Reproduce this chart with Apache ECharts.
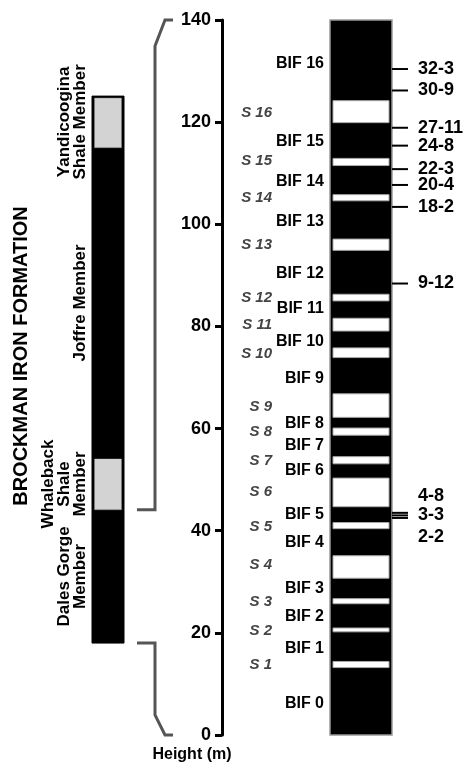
<!DOCTYPE html>
<html>
<head>
<meta charset="utf-8">
<script src="https://cdn.jsdelivr.net/npm/echarts@6/dist/echarts.min.js"></script>
<style>html,body{margin:0;padding:0;background:#fff}#c{width:465px;height:764px}</style>
</head>
<body>
<div id="c"></div>
<script>
// ---------- DATA ----------
const heightMin = 0, heightMax = 140, heightStep = 20;
const axisName = 'Height (m)';
const formationName = 'BROCKMAN IRON FORMATION';

const memberLabels = ['Dales Gorge\nMember', 'Whaleback\nShale\nMember', 'Joffre Member', 'Yandicoogina\nShale Member'];
const memberBase = [18.0, 44.1, 54.2, 115.0];
const memberTop  = [44.1, 54.2, 115.0, 125.1];

const bifLabels = ['BIF 0','BIF 1','BIF 2','BIF 3','BIF 4','BIF 5','BIF 6','BIF 7','BIF 8','BIF 9','BIF 10','BIF 11','BIF 12','BIF 13','BIF 14','BIF 15','BIF 16'];
const bifLabelHeights = [6.2, 17.0, 23.2, 28.6, 37.7, 43.1, 51.7, 56.6, 61.0, 69.8, 77.1, 83.4, 90.4, 100.5, 108.3, 116.2, 131.5];

const shaleLabels = ['S 1','S 2','S 3','S 4','S 5','S 6','S 7','S 8','S 9','S 10','S 11','S 12','S 13','S 14','S 15','S 16'];
const shaleLabelHeights = [13.7, 20.4, 26.0, 33.3, 40.8, 47.6, 53.7, 59.3, 64.2, 74.6, 80.3, 85.6, 95.9, 105.1, 112.4, 121.9];
const shaleBandBase = [13.2, 20.2, 25.7, 30.7, 40.4, 44.7, 53.1, 58.7, 62.2, 73.9, 79.1, 85.0, 94.9, 104.6, 111.5, 119.9];
const shaleBandTop  = [14.4, 20.95, 26.7, 35.1, 41.6, 50.3, 54.5, 60.1, 66.8, 75.8, 81.6, 86.3, 97.1, 105.8, 112.9, 124.2];

const sampleLabels  = ['2-2', '3-3', '4-8', '9-12', '18-2', '20-4', '22-3', '24-8', '27-11', '30-9', '32-3'];
const sampleHeights = [42.5, 43.0, 43.5, 88.4, 103.4, 107.7, 110.8, 115.4, 118.9, 126.2, 130.4];

// ---------- LAYOUT ----------
const FONT = '"Liberation Sans", Arial, Helvetica, sans-serif';
const L = {
  top: 20, plotH: 715,
  leftCol: [92, 124], memberLabelRight: 88,
  axisX: 222,
  bifCol: [330, 392], bandInset: 3,
  bifLabelRight: 324, sLabelRight: 272,
  tickX: [392, 408], sampleLabelX: 418,
  bracketX: [137, 155, 165, 173],
  formationX: 21, formationY: 356,
  axisNameX: 192, axisNameY: 755
};
const sampleLabelShift = {'4-8': -17, '3-3': 0, '2-2': 19};

const chart = echarts.init(document.getElementById('c'));

function yPx(api, v) { return api.coord([0, v])[1]; }

const option = {
  animation: false,
  backgroundColor: '#fff',
  grid: [
    {left: L.leftCol[0], width: L.leftCol[1] - L.leftCol[0], top: L.top, height: L.plotH},
    {left: L.axisX, right: 0, top: L.top, height: L.plotH}
  ],
  xAxis: [
    {gridIndex: 0, type: 'value', min: 0, max: 1, show: false},
    {gridIndex: 1, type: 'value', min: 0, max: 1, show: false}
  ],
  yAxis: [
    {gridIndex: 0, type: 'value', min: heightMin, max: heightMax, show: false},
    {gridIndex: 1, type: 'value', min: heightMin, max: heightMax, interval: heightStep, position: 'left',
     axisLine: {show: true, lineStyle: {color: '#000', width: 3}},
     axisTick: {show: true, inside: false, length: 7, lineStyle: {color: '#000', width: 3}},
     axisLabel: {show: true, color: '#000', fontSize: 18, fontWeight: 'bold', fontFamily: FONT, margin: 11},
     splitLine: {show: false}}
  ],
  graphic: [
    {type: 'text', x: L.axisNameX, y: L.axisNameY,
     style: {text: axisName, align: 'center', verticalAlign: 'middle', fontSize: 16, fontWeight: 'bold', fontFamily: FONT, fill: '#000'}},
    {type: 'text', x: L.formationX, y: L.formationY, rotation: Math.PI / 2,
     style: {text: formationName, align: 'center', verticalAlign: 'middle', fontSize: 20, fontWeight: 'bold', fontFamily: FONT, fill: '#000'}}
  ],
  series: [
    // left formation column
    {type: 'custom', xAxisIndex: 0, yAxisIndex: 0, silent: true, z: 2,
     data: memberBase.map((b, i) => [0, b, memberTop[i]]),
     renderItem: (params, api) => {
       const i = params.dataIndex;
       const b = api.value(1), t = api.value(2);
       const p0 = api.coord([0, b]), p1 = api.coord([1, t]);
       const x0 = p0[0], x1 = p1[0], y0 = p0[1], y1 = p1[1];
       const isShale = memberLabels[i].indexOf('Shale') >= 0;
       const children = [
         {type: 'rect', shape: {x: x0, y: y1, width: x1 - x0, height: y0 - y1}, style: {fill: '#000', stroke: '#000', lineWidth: 1}}
       ];
       if (isShale) {
         const topInset = (i === memberBase.length - 1) ? 2 : 0;
         children.push({type: 'rect', shape: {x: x0 + 2.5, y: y1 + topInset, width: x1 - x0 - 5, height: y0 - y1 - topInset},
                        style: {fill: '#d3d3d3', stroke: '#888', lineWidth: 0.5}});
       }
       children.push({type: 'text', x: L.memberLabelRight, y: (y0 + y1) / 2, rotation: Math.PI / 2,
         style: {text: memberLabels[i], align: 'center', verticalAlign: 'bottom', fontSize: 17, fontWeight: 'bold', fontFamily: FONT, fill: '#000', lineHeight: 16}});
       return {type: 'group', children};
     }},
    // brackets
    {type: 'custom', xAxisIndex: 1, yAxisIndex: 1, silent: true, z: 2,
     data: [[0, 0]],
     renderItem: (params, api) => {
       const bx = L.bracketX;
       const yTop = yPx(api, heightMax), yBot = yPx(api, heightMin);
       const yA = yPx(api, memberTop[0]), yB = yPx(api, memberBase[0]);
       const st = {stroke: '#555', lineWidth: 3, fill: null, lineJoin: 'miter'};
       return {type: 'group', children: [
         {type: 'polyline', shape: {points: [[bx[0], yA], [bx[1], yA], [bx[1], yTop + 26], [bx[2], yTop], [bx[3], yTop]]}, style: st},
         {type: 'polyline', shape: {points: [[bx[0], yB], [bx[1], yB], [bx[1], yBot - 20], [bx[2], yBot], [bx[3], yBot]]}, style: st}
       ]};
     }},
    // BIF column
    {type: 'custom', xAxisIndex: 1, yAxisIndex: 1, silent: true, z: 2,
     data: [[0, heightMin, heightMax]],
     renderItem: (params, api) => {
       const y0 = yPx(api, api.value(1)), y1 = yPx(api, api.value(2));
       return {type: 'rect', shape: {x: L.bifCol[0], y: y1, width: L.bifCol[1] - L.bifCol[0], height: y0 - y1},
               style: {fill: '#000', stroke: '#999', lineWidth: 1.5}};
     }},
    // shale bands
    {type: 'custom', xAxisIndex: 1, yAxisIndex: 1, silent: true, z: 3,
     data: shaleBandBase.map((b, i) => [0, b, shaleBandTop[i]]),
     renderItem: (params, api) => {
       const y0 = yPx(api, api.value(1)), y1 = yPx(api, api.value(2));
       return {type: 'rect', shape: {x: L.bifCol[0] + L.bandInset, y: y1, width: L.bifCol[1] - L.bifCol[0] - 2 * L.bandInset, height: y0 - y1},
               style: {fill: '#fff', stroke: '#aaa', lineWidth: 1}};
     }},
    // BIF labels
    {type: 'custom', xAxisIndex: 1, yAxisIndex: 1, silent: true, z: 4,
     data: bifLabelHeights.map(h => [0, h]),
     renderItem: (params, api) => ({type: 'text', x: L.bifLabelRight, y: yPx(api, api.value(1)),
       style: {text: bifLabels[params.dataIndex], align: 'right', verticalAlign: 'middle', fontSize: 16, fontWeight: 'bold', fontFamily: FONT, fill: '#000'}})},
    // S labels
    {type: 'custom', xAxisIndex: 1, yAxisIndex: 1, silent: true, z: 4,
     data: shaleLabelHeights.map(h => [0, h]),
     renderItem: (params, api) => ({type: 'text', x: L.sLabelRight, y: yPx(api, api.value(1)),
       style: {text: shaleLabels[params.dataIndex], align: 'right', verticalAlign: 'middle', fontSize: 15, fontWeight: 'bold', fontStyle: 'italic', fontFamily: FONT, fill: '#444'}})},
    // sample ticks + labels
    {type: 'custom', xAxisIndex: 1, yAxisIndex: 1, silent: true, z: 4,
     data: sampleHeights.map(h => [0, h]),
     renderItem: (params, api) => {
       const y = yPx(api, api.value(1));
       const lab = sampleLabels[params.dataIndex];
       const shift = sampleLabelShift[lab] || 0;
       return {type: 'group', children: [
         {type: 'line', shape: {x1: L.tickX[0], y1: y, x2: L.tickX[1], y2: y}, style: {stroke: '#000', lineWidth: 2}},
         {type: 'text', x: L.sampleLabelX, y: y + shift,
          style: {text: lab, align: 'left', verticalAlign: 'middle', fontSize: 18, fontWeight: 'bold', fontFamily: FONT, fill: '#000'}}
       ]};
     }}
  ]
};
chart.setOption(option);
</script>
</body>
</html>
